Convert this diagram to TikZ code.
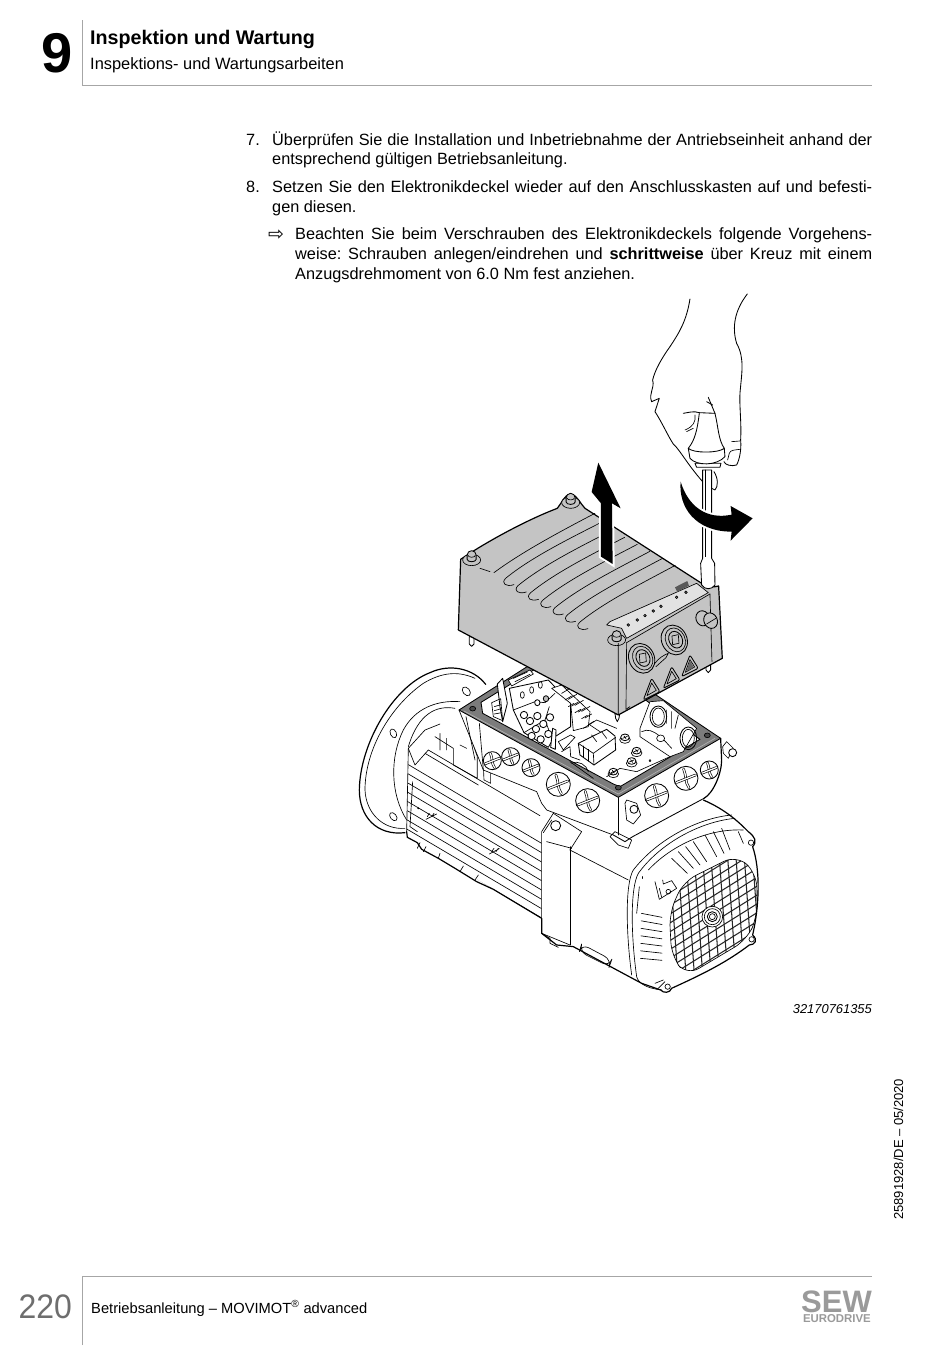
\documentclass[tikz,border=0pt]{standalone}
\usepackage{fontspec}
\setmainfont{Liberation Sans}
\newfontfamily\symfont{DejaVu Sans}
\usetikzlibrary{positioning}
\definecolor{rulegray}{HTML}{A6A6A6}
\definecolor{pagegray}{HTML}{6E6E6E}
\definecolor{boxgray}{HTML}{C4C4C4}
\definecolor{panelgray}{HTML}{E2E2E2}
\definecolor{gasketgray}{HTML}{7C7C7C}
\definecolor{logogray}{HTML}{9A9A9A}
\tikzset{
    bodytext/.style={anchor=base west, inner sep=0pt, font=\fontsize{16.3}{18}\selectfont},
    heavy/.style={line width=1.2pt, line join=round, line cap=round},
    medium/.style={line width=0.85pt, line join=round, line cap=round},
    fine/.style={line width=0.65pt, line join=round, line cap=round},
    motionarrow/.style={fill=black, preaction={draw=white, line width=4pt}},
    zoomone/.style={shift={(340pt,-290pt)}, x=0.3333pt, y=-0.3333pt},
    zoomtwo/.style={shift={(340pt,-650pt)}, x=0.3333pt, y=-0.3333pt},
    zoomfan/.style={shift={(600pt,-810pt)}, x=0.3333pt, y=-0.3333pt},
    zoombox/.style={shift={(450pt,-660pt)}, x=0.3333pt, y=-0.3333pt},
    plugscrew/.pic={
        % Disc
        \draw[medium, fill=white] (0,0) circle (1);
        % Slots
        \draw[fine, double=white, double distance=1.3pt] (-0.2,-0.78) .. controls (0.05,-0.2) and (-0.1,0.3) .. (0.25,0.78);
        \draw[fine, double=white, double distance=1.3pt] (-0.8,0.35) -- (0.8,-0.28);
    },
    lug/.pic={
        % Base
        \draw[fine, fill=boxgray] (0,0.55) ellipse (1.5 and 0.95);
        % Stud
        \draw[medium, fill=boxgray] (-0.75,0.45) -- (-0.75,-0.25) arc (-180:0:0.75) -- (0.75,0.45) arc (0:180:0.75 and 0.4);
        \draw[fine] (-0.6,-0.2) arc (180:0:0.6 and 0.3);
    },
}
\frenchspacing
\begin{document}
\begin{tikzpicture}[x=1pt, y=-1pt]
    \useasboundingbox (0,0) rectangle (950,1353);
    \fill[white] (0,0) rectangle (950,1353);

    % Header
    \draw[rulegray, line width=0.9pt] (82,20) -- (82,85) -- (872,85);
    \node[anchor=base, inner sep=0pt, font=\fontsize{56}{60}\selectfont\bfseries] (chapter) at (57.5,72) {9};
    \node[anchor=base west, inner sep=0pt, font=\fontsize{19.7}{22}\selectfont\bfseries] (title) at (90,44) {Inspektion und Wartung};
    \node[anchor=base west, inner sep=0pt, font=\fontsize{16.4}{18}\selectfont] (subtitle) at (90,69) {Inspektions- und Wartungsarbeiten};

    % Instructions
    \node[bodytext] (numseven) at (246,145) {7.};
    \node[bodytext] (stepseven) at (272,145) {\makebox[600pt][s]{Überprüfen Sie die Installation und Inbetriebnahme der Antriebseinheit anhand der}};
    \node[bodytext] (stepsevenb) at (272,164) {entsprechend gültigen Betriebsanleitung.};
    \node[bodytext] (numeight) at (246,192) {8.};
    \node[bodytext] (stepeight) at (272,192) {\makebox[600pt][s]{Setzen Sie den Elektronikdeckel wieder auf den Anschlusskasten auf und befesti-}};
    \node[bodytext] (stepeightb) at (272,212) {gen diesen.};
    \node[anchor=base west, inner sep=0pt, font=\fontsize{19}{20}\selectfont\symfont] (hint) at (268,240) {⇨};
    \node[bodytext] (hinta) at (295,239) {\makebox[577pt][s]{Beachten Sie beim Verschrauben des Elektronikdeckels folgende Vorgehens-}};
    \node[bodytext] (hintb) at (295,259) {\makebox[577pt][s]{weise: Schrauben anlegen/eindrehen und \textbf{schrittweise} über Kreuz mit einem}};
    \node[bodytext] (hintc) at (295,279) {Anzugsdrehmoment von 6.0 Nm fest anziehen.};

    % Motor
    \begin{scope}[zoomtwo]
        % Flange
        \draw[heavy] (437,103) .. controls (400,55) and (330,40) .. (270,68) .. controls (160,110) and (60,280) .. (58,420) .. controls (58,500) and (110,558) .. (195,548);
        \draw[fine] (405,85) .. controls (350,60) and (300,70) .. (250,100) .. controls (150,170) and (75,300) .. (75,420) .. controls (78,490) and (130,540) .. (195,535);
        \draw[fine, rotate around={40:(379,124)}] (379,124) ellipse (10 and 15);
        \draw[fine, rotate around={25:(160,250)}] (160,250) ellipse (9 and 14);
        \draw[fine, rotate around={40:(160,500)}] (160,500) ellipse (9 and 14);
        \draw[fine] (360,155) .. controls (290,150) and (225,175) .. (190,240) .. controls (150,320) and (150,430) .. (200,510);
        \draw[fine] (345,175) .. controls (290,165) and (235,190) .. (205,290);
        % Frame
        \fill[white] (205,295) -- (255,240) -- (300,225) -- (430,360) -- (605,520) -- (605,805) -- (200,560) -- cycle;
        \draw[fine] (205,295) -- (255,240) -- (300,222);
        \draw[fine] (205,295) -- (200,545);
        \draw[heavy] (200,545) -- (202,562) -- (232,578) -- (245,598) -- (295,625) -- (345,655) -- (410,695) -- (460,718) -- (605,805);
        \draw[fine] (205,295) -- (225,345) -- (265,300);
        \draw[fine] (265,300) -- (600,497);
        \draw[fine] (255,310) -- (415,405);
        \draw[fine] (285,260) -- (340,295) -- (340,345) -- (412,385) -- (412,320) -- (385,240);
        \draw[fine] (300,250) -- (300,300) (320,265) -- (320,300) (360,285) -- (380,295);
        \draw[fine] (430,345) -- (432,390) -- (452,400) -- (452,360);
        \begin{scope}
            \clip (205,340) -- (605,570) -- (605,805) -- (200,560) -- cycle;
            \foreach \i in {0,...,8} {
                \draw[fine] (190,{335+28*\i}) -- (620,{589+28*\i});
            }
        \end{scope}
        \draw[fine] (218,395) -- (210,530) -- (232,545);
        \draw[fine] (235,475) circle (2);
        \draw[fine] (258,508) -- (290,492) (262,500) -- (268,490) (275,500) -- (282,490);
        \draw[fine] (448,612) -- (478,596) (455,605) -- (462,595) (468,605) -- (475,595);
        % Feet
        \draw[fine] (240,578) -- (232,595) (258,590) -- (250,605) (300,610) -- (295,625) (370,648) -- (360,665) (415,675) -- (405,690);
        % Fan end
        \fill[white] (1090,450) .. controls (1160,480) and (1200,520) .. (1225,545) -- (1238,590) .. controls (1262,660) and (1258,770) .. (1238,855) -- (1228,885) .. controls (1150,945) and (1060,985) .. (995,1015) -- (962,1020) -- (905,1000) -- (700,890) -- (650,885) -- (605,850) -- (605,545) -- (640,490) -- (830,555) -- cycle;
        \draw[heavy] (1090,450) .. controls (1160,480) and (1200,520) .. (1225,545) .. controls (1245,560) and (1252,575) .. (1238,590) .. controls (1262,660) and (1258,770) .. (1238,855) .. controls (1255,870) and (1245,885) .. (1228,885) .. controls (1150,945) and (1060,985) .. (995,1015) .. controls (990,1030) and (970,1030) .. (962,1020) -- (905,1000) -- (700,890) -- (650,885) -- (605,850) -- (605,805);
        \draw[fine] (605,805) -- (605,545) -- (640,490);
        \draw[fine] (690,590) -- (690,885);
        \draw[fine] (725,545) -- (690,600);
        \draw[fine] (690,600) -- (865,690);
        \draw[fine] (640,490) -- (725,545);
        \draw[fine] (620,575) -- (695,595);
        \draw[fine] (605,850) -- (630,865) -- (630,880) -- (655,892);
        \draw[fine] (605,850) -- (690,885);
        \draw[fine, rounded corners=8pt] (725,882) -- (815,930) -- (808,950) -- (718,905) -- cycle;
        \draw[medium, fill=white] (647,527) circle (15);
        \draw[fine] (610,548) -- (635,510);
    \end{scope}

    % Fan cover
    \begin{scope}[zoomfan]
        \draw[fine] (395,15) .. controls (290,25) and (170,90) .. (100,180) .. controls (75,220) and (78,370) .. (95,495);
        \draw[fine] (405,25) .. controls (300,35) and (180,100) .. (115,190) .. controls (90,235) and (93,380) .. (110,500) .. controls (115,520) and (140,535) .. (185,540);
        \draw[fine] (430,60) .. controls (320,55) and (210,110) .. (145,180);
        \draw[fine] (118,230) -- (110,310);
        \draw[fine] (415,65) -- (430,100);
        \draw[medium] (128,200) -- (128,205);
        % Vents
        \foreach \xa/\ya/\xb/\yb in {215/145/262/190, 235/125/280/175, 257/110/300/165, 280/95/320/155, 315/75/350/140, 340/65/372/130, 365/55/390/120} {
            \draw[fine] (\xa,\ya) -- (\xb,\yb);
        }
        \foreach \i in {0,...,6} {
            \draw[fine] ({124-\i*0.5},{310+22.5*\i}) -- (186,{322+21.5*\i});
        }
        % Label
        \draw[fine] (165,215) -- (178,268) -- (230,235) -- (215,212) -- (190,222) -- (188,210);
        \draw[fine] (205,245) circle (7);
        \draw[fine] (178,235) -- (185,262);
        % Guard
        \begin{scope}
            \clip[rounded corners=14pt] (410,135) -- (470,190) -- (472,320) -- (440,390) -- (260,497) -- (215,440) -- (208,310) -- (250,215) -- cycle;
            \foreach \i in {-2,...,12} {
                \draw[line width=1.05pt, black!85] ({205+25*\i},100) -- ({235+25*\i},520);
                \draw[line width=1.05pt, black!85] (180,{225+26.5*\i}) -- (500,{25+26.5*\i});
            }
        \end{scope}
        \draw[fine, rounded corners=14pt] (410,135) -- (470,190) -- (472,320) -- (440,390) -- (260,497) -- (215,440) -- (208,310) -- (250,215) -- cycle;
        \draw[fine, fill=white] (337,320) circle (31);
        \draw[fine] (337,320) circle (24);
        \draw[medium] (337,320) circle (15);
        \draw[fine] (337,320) circle (9);
        % Ears
        \draw[fine, fill=white] (453,98) circle (8);
        \draw[fine, fill=white] (455,388) circle (8);
        \draw[fine, fill=white] (203,530) circle (8);
        \draw[fine] (165,520) -- (190,510) (175,535) -- (195,515);
    \end{scope}

    % Terminal box
    \begin{scope}[zoombox]
        \fill[white] (27,150) -- (88,300) -- (100,330) -- (260,395) -- (275,430) -- (290,450) -- (490,525) -- (525,545) -- (548,530) -- (760,415) -- (812,300) -- (812,235) -- cycle;
        \draw[fine] (27,150) -- (88,300) -- (100,330) -- (260,395) -- (275,430) -- (290,450) -- (490,525);
        \draw[medium] (490,525) -- (525,545) -- (548,530) -- (762,415);
        \draw[heavy] (762,415) .. controls (790,400) and (815,340) .. (815,300) -- (812,235);
        \draw[fine] (48,170) -- (75,300);
        \draw[fine] (88,190) -- (100,330);
        \draw[fine] (505,412) -- (505,525);
        \draw[fine] (480,530) -- (495,515) -- (545,540) -- (535,565) -- (505,555) -- cycle;
        % Gasket
        \draw[medium, fill=gasketgray] (27,150) -- (365,-65) -- (812,235) -- (505,412) -- cycle;
        \draw[medium, fill=white] (93,127) -- (98,160) -- (490,372) -- (510,380) -- (750,238) -- (365,-40) -- cycle;
        \draw[fine, white!70!black] (42,153) -- (505,402) -- (795,235);
        \draw[fine, fill=gasketgray!60!black] (68,146) ellipse (9 and 7);
        \draw[fine, fill=gasketgray!60!black] (505,383) ellipse (9 and 7);
        \draw[fine, fill=gasketgray!60!black] (772,226) ellipse (9 and 7);
        % Side plugs
        \pic[scale=27] at (127,302) {plugscrew};
        \pic[scale=27] at (182,290) {plugscrew};
        \pic[scale=27] at (243,323) {plugscrew};
        \pic[scale=36] at (325,373) {plugscrew};
        \pic[scale=36] at (413,422) {plugscrew};
        \pic[scale=36] at (620,407) {plugscrew};
        \pic[scale=36] at (708,355) {plugscrew};
        \pic[scale=27] at (778,330) {plugscrew};
        % Bolts
        \draw[fine, fill=white] (525,430) -- (530,420) -- (560,430) -- (572,465) -- (550,492) -- (530,480) -- cycle;
        \draw[medium, fill=white] (552,448) circle (12);
        \draw[fine, fill=white] (818,260) -- (830,245) -- (850,265) -- (835,295) -- (820,280) -- cycle;
        \draw[medium, fill=white] (848,278) circle (12);
        % Terminal blocks
        \draw[medium, fill=white] (142,72) -- (158,55) -- (172,130) -- (158,185) -- (150,140) -- cycle;
        \draw[fine] (125,128) -- (152,116) -- (158,182) -- (130,170) -- cycle;
        \draw[fine] (133,140) -- (152,134) (133,152) -- (154,146) (133,162) -- (155,158);
        \draw[medium, fill=white] (178,85) -- (295,60) -- (362,130) -- (362,200) -- (312,232) -- (295,262) -- (222,218) -- (190,150) -- cycle;
        \draw[fine] (190,150) -- (255,125) -- (285,128) -- (315,100);
        \draw[fine] (222,218) -- (285,180) -- (298,140) (285,180) -- (308,240);
        \draw[fine, fill=white] (175,60) -- (240,30) -- (250,42) -- (185,78) -- cycle;
        \draw[fine] (190,55) -- (232,36) (195,65) -- (240,43);
        \foreach \x/\y in {217/105, 245/90, 271/75} {
            \draw[fine, fill=white] (\x,\y) ellipse (6 and 10);
        }
        \foreach \x/\y in {240/183, 262/168, 222/165, 258/207, 280/192, 300/172, 245/228, 272/238, 295/222} {
            \draw[medium, fill=white] (\x,\y) circle (11);
        }
        \draw[medium, fill=white] (262,128) ellipse (8 and 9);
        \draw[medium, fill=gasketgray!50] (288,116) ellipse (8 and 9);
        \draw[fine, fill=white] (305,85) -- (335,75) -- (420,155) -- (415,200) -- (370,212) -- (362,130) -- cycle;
        \foreach \i in {0,...,3} {
            \draw[fine] ({335+20*\i},{100+18*\i}) -- ({360+20*\i},{85+18*\i}) ({345+20*\i},{120+18*\i}) -- ({365+20*\i},{108+18*\i}) ({355+20*\i},{140+18*\i}) -- ({372+20*\i},{130+18*\i});
        }
        \draw[medium, fill=white] (302,262) -- (308,205) -- (318,210) -- (316,268) -- cycle;
        \draw[fine, fill=white] (325,245) -- (362,225) -- (375,232) -- (340,270) -- cycle;
        \draw[fine] (335,275) -- (360,260) -- (362,290) -- (390,300);
        % Relay
        \draw[fine] (400,205) -- (440,180) -- (500,205) (420,195) -- (480,235);
        \draw[medium, fill=white] (385,250) -- (470,208) -- (495,228) -- (497,270) -- (432,315) -- (390,285) -- cycle;
        \draw[fine] (385,250) -- (430,280) -- (497,232) (430,280) -- (432,315);
        \draw[fine] (400,258) -- (400,293) (415,268) -- (415,303);
        \draw[fine] (425,225) -- (440,245) (455,215) -- (470,235);
        % Screws
        \foreach \x/\y in {525/232, 560/272, 545/303, 490/335} {
            \draw[fine, fill=white] (\x,{\y+7}) ellipse (16 and 11);
            \draw[medium, fill=white] (\x,\y) ellipse (13 and 10);
            \draw[fine] ({\x-7},{\y+3}) -- ({\x+7},{\y-3}) ({\x-3},{\y-4}) -- ({\x+3},{\y+4});
        }
        \draw[fine] (365,310) .. controls (385,300) and (410,315) .. (415,335);
        \draw[fine] (470,350) -- (510,325) -- (560,335) -- (660,290);
        \draw[fine] (600,302) circle (3);
        % Cable entries
        \draw[fine, fill=white] (600,125) -- (640,122) -- (740,205) -- (700,275) -- (660,290) -- (570,230) -- (570,205) -- cycle;
        \draw[medium] (625,170) ellipse (25 and 32);
        \draw[fine] (625,170) ellipse (18 and 26);
        \draw[medium] (715,235) ellipse (25 and 34);
        \draw[fine] (715,235) ellipse (18 and 27);
        \draw[fine] (650,150) -- (650,190) (665,155) -- (665,205) (685,165) -- (675,205);
        \draw[fine] (575,215) .. controls (610,195) and (650,250) .. (665,265);
        \draw[fine, fill=white] (632,235) ellipse (12 and 10);
        % Interior floor
        \draw[fine] (360,305) -- (430,355);
    \end{scope}

    % Electronics cover
    \begin{scope}[zoomone]
        \draw[medium, fill=white] (388,1040) -- (402,1040) -- (402,1062) -- (395,1069) -- (388,1062) -- cycle;
        \draw[medium, fill=white] (1098,1120) -- (1112,1112) -- (1112,1140) -- (1105,1148) -- (1098,1140) -- cycle;
        \draw[medium, fill=white] (825,1270) -- (840,1265) -- (837,1285) -- (832,1295) -- (827,1285) -- cycle;
        \draw[heavy, fill=boxgray] (362,808) .. controls (440,755) and (560,690) .. (652,655) .. controls (665,640) and (672,615) .. (692,612) .. controls (712,615) and (720,640) .. (735,655) -- (1085,880) .. controls (1100,892) and (1125,892) .. (1136,888) -- (1147,1105) -- (835,1275) -- (355,1020) -- cycle;
        % Ribs
        \draw[fine] (420,835) -- (450,845);
        \draw[fine] (462,848) .. controls (540,790) and (650,730) .. (765,670);
        \foreach \i in {0,...,6} {
            \draw[fine] ({522+37*\i},{884+22*\i}) .. controls ({498+37*\i},{892+22*\i}) and ({482+37*\i},{880+22*\i}) .. ({497+37*\i},{865+22*\i}) .. controls ({570+37*\i},{805+22*\i}) and ({680+37*\i},{750+22*\i}) .. ({778+38*\i},{700+21*\i});
        }
        % Display panel
        \draw[fine, fill=panelgray] (800,1005) -- (810,995) -- (1070,880) -- (1105,908) -- (860,1045) -- (845,1015) -- cycle;
        \foreach \x/\y in {865/1005, 892/990, 915/977, 940/963, 963/949, 1010/922, 1038/907} {
            \draw[fine, fill=gray] (\x,\y) circle (4);
        }
        \fill[gray!70!black] (1005,892) -- (1042,873) -- (1047,887) -- (1012,906) -- cycle;
        % Lugs
        \pic[scale=18] at (395,800) {lug};
        \pic[scale=18] at (692,628) {lug};
        \pic[scale=18] at (830,1040) {lug};
        % Front face
        \draw[fine] (860,1058) -- (1110,912);
        \draw[fine] (835,1060) -- (835,1275) (860,1058) -- (858,1258);
        \draw[fine] (1110,912) -- (1116,1115);
        \draw[fine] (858,1258) -- (870,1250);
        % Sockets
        \foreach \x/\y in {905/1105, 1003/1050} {
            \draw[medium, fill=boxgray, rotate around={25:(\x,\y)}] (\x,\y) ellipse (38 and 46);
            \draw[fine, rotate around={25:(\x,\y)}] ({\x+3},{\y+1}) ellipse (29 and 37);
            \draw[medium, rotate around={25:(\x,\y)}] ({\x+4},{\y+1}) ellipse (20 and 26);
            \draw[fine] ({\x-7},{\y-12}) -- ({\x+12},{\y-16}) -- ({\x+14},{\y+10}) -- ({\x-5},{\y+14}) -- cycle;
        }
        \draw[fine] (945,1120) .. controls (955,1105) and (972,1095) .. (985,1090) -- (978,1103) -- (948,1130);
        % Warning triangles
        \foreach \x/\y in {935/1165, 995/1130, 1050/1095} {
            \draw[medium, rounded corners=2pt] (\x,\y) -- ({\x-25},{\y+65}) -- ({\x+25},{\y+40}) -- cycle;
            \draw[fine] (\x,{\y+14}) -- ({\x-14},{\y+52}) -- ({\x+14},{\y+36}) -- cycle;
        }
        \fill[gray!80!black] (1050,1112) -- (1039,1145) -- (1061,1132) -- cycle;
        % Knob
        \draw[medium, fill=boxgray, rotate around={20:(1088,985)}] (1088,985) ellipse (20 and 23);
        \draw[medium, fill=boxgray, rotate around={25:(1112,992)}] (1112,992) ellipse (20 and 24);
        \draw[fine] (1100,1002) -- (1128,985);

        % Screwdriver
        \draw[medium, fill=white] (1085,885) -- (1082,820) -- (1088,805) -- (1088,540) -- (1115,540) -- (1115,805) -- (1124,820) -- (1125,885) .. controls (1115,900) and (1095,900) .. (1085,885) -- cycle;
        \draw[fine] (1096,540) -- (1096,800);
        \draw[medium, fill=white] (1065,520) -- (1143,520) -- (1140,532) -- (1070,532) -- cycle;
        \draw[medium, fill=white] (1045,475) .. controls (1060,490) and (1135,490) .. (1153,475) -- (1155,500) .. controls (1130,528) and (1070,528) .. (1050,505) -- cycle;
        \draw[medium] (1078,370) .. controls (1072,420) and (1065,450) .. (1045,475);
        \draw[medium] (1125,370) .. controls (1135,410) and (1135,450) .. (1153,475);
        % Hand
        \draw[medium] (1050,27) .. controls (1040,90) and (1020,125) .. (990,170) .. controls (965,205) and (945,240) .. (938,270) .. controls (945,295) and (925,310) .. (935,335) -- (958,325) -- (945,365) .. controls (965,395) and (985,440) .. (1000,462) .. controls (1020,480) and (1040,520) .. (1088,575);
        \draw[medium] (1222,12) .. controls (1185,60) and (1175,110) .. (1190,160) .. controls (1215,205) and (1205,250) .. (1200,310) .. controls (1198,350) and (1205,400) .. (1202,450) .. controls (1205,480) and (1198,510) .. (1190,525) .. controls (1175,530) and (1155,525) .. (1152,515);
        \draw[medium] (1105,322) -- (1125,370);
        \draw[medium] (1100,335) -- (1118,345);
        \draw[medium] (1030,370) .. controls (1045,368) and (1060,362) .. (1078,368) -- (1125,370);
        \draw[fine] (1065,375) .. controls (1068,395) and (1060,410) .. (1035,420);
        \draw[fine] (1060,415) -- (1040,425);
        \draw[fine] (1175,455) -- (1200,453);
        \draw[fine] (1200,478) .. controls (1185,480) and (1170,480) .. (1168,490) -- (1163,510);
        \draw[medium] (1122,545) .. controls (1135,565) and (1135,590) .. (1125,600) -- (1115,595);

        % Motion arrows
        \path[motionarrow] (775,518) -- (842,655) -- (816,640) -- (818,822) -- (783,800) -- (783,640) -- (755,606) -- cycle;
        \path[motionarrow] (1022,575) .. controls (1015,650) and (1065,725) .. (1175,725) -- (1172,752) -- (1238,685) -- (1172,648) -- (1175,674) .. controls (1100,690) and (1045,650) .. (1022,575) -- cycle;
    \end{scope}

    % Caption and side note
    \node[anchor=base east, inner sep=0pt, font=\fontsize{12.9}{14}\selectfont\itshape] (figid) at (872,1013) {32170761355};
    \node[anchor=base west, inner sep=0pt, rotate=90, font=\fontsize{13}{14}\selectfont] (docid) at (903,1220) {25891928/DE – 05/2020};

    % Footer
    \draw[rulegray, line width=0.9pt] (82,1345) -- (82,1276) -- (872,1276);
    \node[anchor=base west, inner sep=0pt, text=pagegray, xscale=0.94, transform shape, font=\fontsize{34}{36}\selectfont] (pagenum) at (18.5,1318) {220};
    \node[anchor=base west, inner sep=0pt, font=\fontsize{14.7}{16}\selectfont] (manual) at (91,1313) {Betriebsanleitung – MOVIMOT\textsuperscript{®} advanced};
    \node[anchor=base east, inner sep=0pt, text=logogray, font=\fontsize{31}{31}\selectfont\bfseries] (logosew) at (872,1312.5) {SEW};
    \node[anchor=base east, inner sep=0pt, text=logogray, font=\fontsize{11.4}{12}\selectfont\bfseries] (logoeuro) at (871,1322.5) {EURODRIVE};
\end{tikzpicture}
\end{document}
